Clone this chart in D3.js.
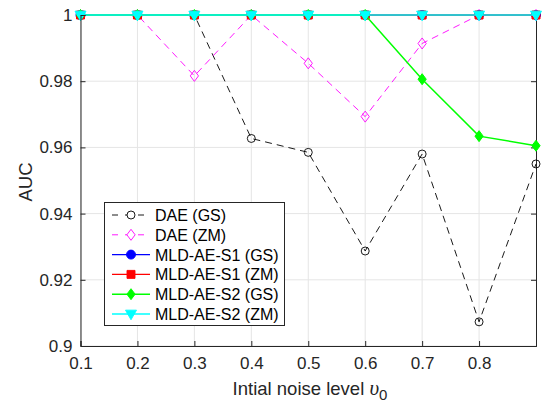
<!DOCTYPE html>
<html>
<head>
<meta charset="utf-8">
<script src="https://cdn.jsdelivr.net/npm/d3@7"></script>
<style>
  html, body { margin: 0; padding: 0; background: #fff; }
  svg { display: block; font-family: "Liberation Sans", Arial, sans-serif; }
</style>
</head>
<body>
<svg id="chart" width="542" height="405"></svg>
<script>
// Noise levels on the x axis
const noiseLevels = [0.1, 0.2, 0.3, 0.4, 0.5, 0.6, 0.7, 0.8, 0.9];
const xTickValues = [0.1, 0.2, 0.3, 0.4, 0.5, 0.6, 0.7, 0.8];
const yTickValues = [0.9, 0.92, 0.94, 0.96, 0.98, 1];

// AUC per method
const daeGS    = [1, 1, 1, 0.9627, 0.9585, 0.9287, 0.9580, 0.9073, 0.9550];
const daeZM    = [1, 1, 0.9816, 1, 0.9854, 0.9693, 0.9914, 1, 1];
const mldS1GS  = [1, 1, 1, 1, 1, 1, 1, 1, 1];
const mldS1ZM  = [1, 1, 1, 1, 1, 1, 1, 1, 1];
const mldS2GS  = [1, 1, 1, 1, 1, 1, 0.9806, 0.9634, 0.9605];
const mldS2ZM  = [1, 1, 1, 1, 1, 1, 1, 1, 1];

const seriesNames = ["DAE (GS)", "DAE (ZM)", "MLD-AE-S1 (GS)", "MLD-AE-S1 (ZM)", "MLD-AE-S2 (GS)", "MLD-AE-S2 (ZM)"];
const seriesValues = [daeGS, daeZM, mldS1GS, mldS1ZM, mldS2GS, mldS2ZM];

const styles = [
  { color: "#000000", dash: "7,5", width: 0.9, marker: "circle",   fill: false, size: 4 },
  { color: "#ff00ff", dash: "7,5", width: 0.9, marker: "diamond",  fill: false, size: 5.5 },
  { color: "#0000ff", dash: null,  width: 1.3, marker: "circle",   fill: true,  size: 4.5 },
  { color: "#ff0000", dash: null,  width: 1.3, marker: "square",   fill: true,  size: 4 },
  { color: "#00ff00", dash: null,  width: 1.5, marker: "diamond",  fill: true,  size: 5.5 },
  { color: "#00ffff", dash: null,  width: 1.3, marker: "triangle", fill: true,  size: 5.5 }
];

const svg = d3.select("#chart");
const plotLeft = 80.5, plotRight = 536, plotTop = 15, plotBottom = 346;

const x = d3.scaleLinear().domain([0.1, 0.9]).range([plotLeft, plotRight]);
const y = d3.scaleLinear().domain([0.9, 1]).range([plotBottom, plotTop]);

const axisColor = "#262626";
const gridColor = "#e5e5e5";

// grid
const grid = svg.append("g");
grid.selectAll("line.gx").data(xTickValues).join("line")
  .attr("x1", d => x(d)).attr("x2", d => x(d))
  .attr("y1", plotTop).attr("y2", plotBottom)
  .attr("stroke", gridColor).attr("stroke-width", 1);
grid.selectAll("line.gy").data(yTickValues).join("line")
  .attr("x1", plotLeft).attr("x2", plotRight)
  .attr("y1", d => y(d)).attr("y2", d => y(d))
  .attr("stroke", gridColor).attr("stroke-width", 1);

// axes (ticks inward)
const fmt = d => String(+d.toFixed(2));
const xAxis = d3.axisBottom(x).tickValues(xTickValues).tickSize(-5).tickPadding(11).tickFormat(fmt);
const yAxis = d3.axisLeft(y).tickValues(yTickValues).tickSize(-5).tickPadding(8).tickFormat(fmt);
const xTop = d3.axisTop(x).tickValues(xTickValues).tickSize(-5).tickFormat("");
const yRight = d3.axisRight(y).tickValues(yTickValues).tickSize(-5).tickFormat("");

function styleAxis(g) {
  g.select(".domain").attr("stroke", axisColor).attr("stroke-width", 1);
  g.selectAll(".tick line").attr("stroke", axisColor);
  g.selectAll(".tick text").attr("fill", axisColor)
    .style("font-family", "'Liberation Sans', Arial, sans-serif").style("font-size", "17px");
}

svg.append("g").attr("transform", `translate(0,${plotTop})`).call(xTop).call(styleAxis);
svg.append("g").attr("transform", `translate(${plotRight},0)`).call(yRight).call(styleAxis);

// marker symbol paths
function markerPath(type, s) {
  if (type === "circle") return d3.symbol(d3.symbolCircle, Math.PI * s * s)();
  if (type === "square") return `M${-s},${-s}H${s}V${s}H${-s}Z`;
  if (type === "diamond") return `M0,${-s}L${s * 0.75},0L0,${s}L${-s * 0.75},0Z`;
  if (type === "triangle") return `M${-s},${-s * 0.7}H${s}L0,${s * 1.05}Z`;
}

// series
const plot = svg.append("g");
seriesValues.forEach((vals, i) => {
  const st = styles[i];
  const pts = noiseLevels.map((n, j) => [n, vals[j]]);
  const line = d3.line().x(d => x(d[0])).y(d => y(d[1]));
  plot.append("path").datum(pts)
    .attr("d", line)
    .attr("fill", "none")
    .attr("stroke", st.color)
    .attr("stroke-width", st.width)
    .attr("stroke-dasharray", st.dash);
  plot.selectAll(null).data(pts).join("path")
    .attr("transform", d => `translate(${x(d[0])},${y(d[1])})`)
    .attr("d", markerPath(st.marker, st.size))
    .attr("fill", st.fill ? st.color : "none")
    .attr("stroke", st.color)
    .attr("stroke-width", st.fill ? 1 : 0.9);
});

svg.append("g").attr("transform", `translate(0,${plotBottom})`).call(xAxis).call(styleAxis);
svg.append("g").attr("transform", `translate(${plotLeft},0)`).call(yAxis).call(styleAxis);

// axis titles
svg.append("text")
  .attr("transform", `translate(32,182) rotate(-90)`)
  .attr("text-anchor", "middle")
  .attr("fill", axisColor)
  .style("font-size", "18.5px")
  .text("AUC");

const xl = svg.append("text")
  .attr("x", 310).attr("y", 395)
  .attr("text-anchor", "middle")
  .attr("fill", axisColor)
  .style("font-size", "18.5px");
xl.append("tspan").text("Intial noise level ");
xl.append("tspan").style("font-family", "'Liberation Serif', 'DejaVu Serif', serif")
  .style("font-style", "italic").style("font-size", "21px").text("υ");
xl.append("tspan").attr("dy", 5).style("font-size", "15px").text("0");

// legend
const lg = svg.append("g");
const lx = 104, ly = 202, lw = 180, lh = 123;
lg.append("rect").attr("x", lx + 0.5).attr("y", ly + 0.5).attr("width", lw).attr("height", lh)
  .attr("fill", "#fff").attr("stroke", axisColor).attr("stroke-width", 1);
seriesNames.forEach((name, i) => {
  const st = styles[i];
  const ry = 215 + i * 19.8;
  lg.append("line").attr("x1", 112).attr("x2", 150).attr("y1", ry).attr("y2", ry)
    .attr("stroke", st.color).attr("stroke-width", st.width)
    .attr("stroke-dasharray", st.dash ? "6,7" : null);
  lg.append("path").attr("transform", `translate(131,${ry})`)
    .attr("d", markerPath(st.marker, st.size))
    .attr("fill", st.fill ? st.color : "#fff")
    .attr("stroke", st.color).attr("stroke-width", 0.9);
  lg.append("text").attr("x", 155).attr("y", ry + 6)
    .attr("fill", "#000").style("font-size", "16px").text(name);
});
</script>
</body>
</html>
